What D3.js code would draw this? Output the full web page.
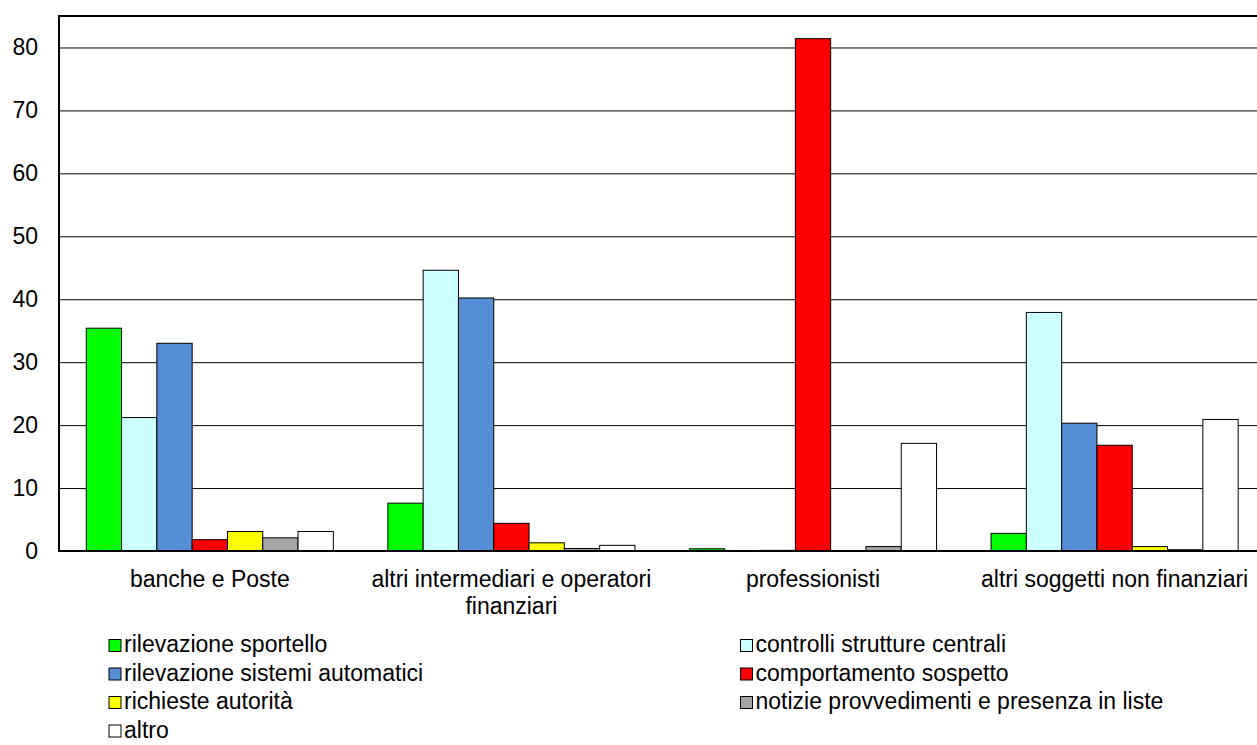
<!DOCTYPE html>
<html>
<head>
<meta charset="utf-8">
<script src="https://cdn.jsdelivr.net/npm/d3@7"></script>
<style>
  body { margin: 0; background: #fff; }
  svg { display: block; font-family: "Liberation Sans", Arial, sans-serif; }
</style>
</head>
<body>
<div id="chart"></div>
<script>
let w = 1257;
let h = 745;

// data
const categories = ["banche e Poste", "altri intermediari e operatori finanziari", "professionisti", "altri soggetti non finanziari"];
const seriesNames = ["rilevazione sportello", "controlli strutture centrali", "rilevazione sistemi automatici",
  "comportamento sospetto", "richieste autorità", "notizie provvedimenti e presenza in liste", "altro"];
const seriesColors = ["#00ff00", "#ccffff", "#558ed5", "#ff0000", "#ffff00", "#a6a6a6", "#ffffff"];
const rilevazioneSportello = [35.4, 7.6, 0.35, 2.8];
const controlliStrutture = [21.2, 44.6, 0, 37.9];
const sistemiAutomatici = [33.0, 40.2, 0.1, 20.3];
const comportamentoSospetto = [1.8, 4.4, 81.4, 16.8];
const richiesteAutorita = [3.1, 1.3, 0, 0.7];
const notizieProvvedimenti = [2.1, 0.4, 0.7, 0.2];
const altro = [3.1, 0.9, 17.1, 20.9];
const yTicks = [0, 10, 20, 30, 40, 50, 60, 70, 80];

const seriesValues = [rilevazioneSportello, controlliStrutture, sistemiAutomatici,
  comportamentoSospetto, richiesteAutorita, notizieProvvedimenti, altro];

let plot = {left: 59, top: 16, bottom: 551, bandW: 301.6};
let fontSize = 23;

let svg = d3.select("#chart").append("svg")
  .attr("width", w)
  .attr("height", h);

let yScale = d3.scaleLinear().domain([0, 85]).range([plot.bottom, plot.top]);

let x0 = d3.scaleBand()
  .domain(categories)
  .range([plot.left, plot.left + categories.length * plot.bandW])
  .paddingInner(0)
  .paddingOuter(0);

let x1 = d3.scaleBand()
  .domain(seriesNames)
  .range([0, x0.bandwidth()])
  .paddingInner(0)
  .paddingOuter(0.772);

let plotRight = x0.range()[1];

// gridlines + tick labels
let yAxis = d3.axisLeft(yScale)
  .tickValues(yTicks)
  .tickSize(-(plotRight - plot.left))
  .tickPadding(21)
  .tickFormat(d3.format("d"));

let yAxisGroup = svg.append("g")
  .attr("transform", "translate(" + plot.left + ",0)")
  .call(yAxis);
yAxisGroup.select(".domain").remove();
yAxisGroup.selectAll(".tick line")
  .attr("stroke", "#000")
  .attr("stroke-width", 1);
yAxisGroup.selectAll(".tick text")
  .attr("fill", "#000")
  .style("font-size", fontSize + "px")
  .style("font-family", "'Liberation Sans', Arial, sans-serif");

// bars
let rows = categories.map((c, i) => ({cat: c, vals: seriesNames.map((s, j) => ({s: s, v: seriesValues[j][i], c: seriesColors[j]}))}));

let groups = svg.selectAll(".grp").data(rows).enter()
  .append("g")
  .attr("class", "grp")
  .attr("transform", d => "translate(" + x0(d.cat) + ",0)");

groups.selectAll("rect").data(d => d.vals).enter()
  .append("rect")
  .attr("x", d => x1(d.s))
  .attr("y", d => yScale(d.v))
  .attr("width", x1.bandwidth())
  .attr("height", d => yScale(0) - yScale(d.v))
  .attr("fill", d => d.c)
  .attr("stroke", "#000")
  .attr("stroke-width", 1);

// frame: top, left, bottom
svg.append("line")
  .attr("x1", plot.left).attr("x2", plotRight)
  .attr("y1", plot.top).attr("y2", plot.top)
  .attr("stroke", "#000").attr("stroke-width", 2);
svg.append("line")
  .attr("x1", plot.left).attr("x2", plot.left)
  .attr("y1", plot.top - 1).attr("y2", yScale(0) + 1)
  .attr("stroke", "#000").attr("stroke-width", 2);
svg.append("line")
  .attr("x1", plot.left).attr("x2", plotRight)
  .attr("y1", yScale(0)).attr("y2", yScale(0))
  .attr("stroke", "#000").attr("stroke-width", 2);

// category labels
let catLabels = svg.selectAll(".cat").data(categories).enter()
  .append("text")
  .attr("class", "cat")
  .attr("x", d => x0(d) + x0.bandwidth() / 2)
  .attr("y", 587)
  .attr("text-anchor", "middle")
  .style("font-size", fontSize + "px")
  .attr("fill", "#000")
  .text(d => d);

catLabels.each(function(d) {
  let t = d3.select(this);
  let maxW = x0.bandwidth() - 12;
  let words = d.split(" ");
  let x = t.attr("x");
  t.text(null);
  let line = [];
  let tspan = t.append("tspan").attr("x", x);
  words.forEach(wd => {
    line.push(wd);
    tspan.text(line.join(" "));
    if (tspan.node().getComputedTextLength() > maxW && line.length > 1) {
      line.pop();
      tspan.text(line.join(" "));
      line = [wd];
      tspan = t.append("tspan").attr("x", x).attr("dy", 27).text(wd);
    }
  });
});

// legend
let legendCols = [108.5, 740];
let legendY0 = 652;
let legendStep = 28.5;

let legend = svg.selectAll(".leg").data(seriesNames).enter()
  .append("g")
  .attr("class", "leg")
  .attr("transform", (d, i) => "translate(" + legendCols[i % 2] + "," + (legendY0 + Math.floor(i / 2) * legendStep) + ")");

legend.append("rect")
  .attr("x", 0.5)
  .attr("y", -12.5)
  .attr("width", 12)
  .attr("height", 12)
  .attr("fill", (d, i) => seriesColors[i])
  .attr("stroke", "#000")
  .attr("stroke-width", 1);

legend.append("text")
  .attr("x", 15.5)
  .attr("y", 0)
  .style("font-size", fontSize + "px")
  .attr("fill", "#000")
  .text(d => d);
</script>
</body>
</html>
